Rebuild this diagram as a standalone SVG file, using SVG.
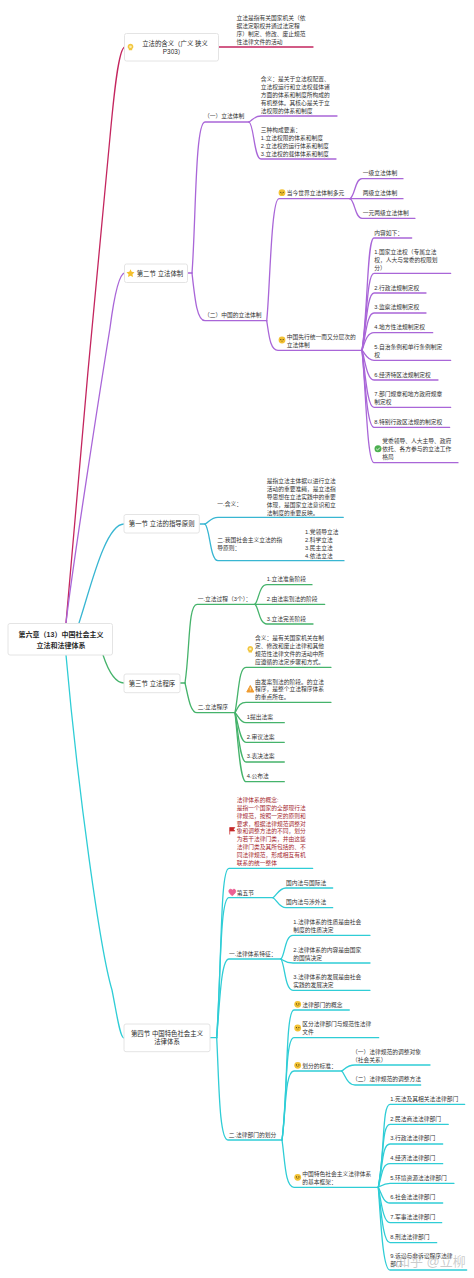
<svg xmlns="http://www.w3.org/2000/svg" width="474" height="1278" viewBox="0 0 474 1278">
<style>
text{font-family:"Liberation Sans","Noto Sans CJK SC",sans-serif;font-size:5.75px;fill:#333}
.n{font-size:6.4px;text-anchor:middle;fill:#2a2a2a}
.r{font-size:7px;font-weight:bold;text-anchor:middle;fill:#2a2a2a}
.red{fill:#a5282e}
.box{fill:#fff;stroke:#e4e4e4;stroke-width:1}
#connectors path{fill:none;stroke-linecap:round;stroke-width:1.3}
.c1 path{stroke:#c4265f}
.c2 path{stroke:#a966d8}
.c3 path{stroke:#38b6d2}
.c4 path{stroke:#45b36b}
.c5 path{stroke:#2fcdd6}
.wm{font-size:13px;fill:#aaa;fill-opacity:.6}
</style>
<defs>
<g id="face"><circle r="3.400" fill="#f3c233"/><circle cx="-1.200" cy="-.4" r=".6" fill="#4a3a10"/><circle cx="1.200" cy="-.4" r=".6" fill="#4a3a10"/><path d="M-1 1.200h2" stroke="#8a6a10" stroke-width=".5"/></g>
<g id="bulb"><path d="M0-3.300a3 3 0 0 1 1.700 5.400v1.200h-3.400v-1.200a3 3 0 0 1 1.700-5.400z" fill="#f2c63f"/><circle cy="-.3" r="1.300" fill="#fbeeb0"/></g>
</defs>
<g id="connectors">
<g class="c1"><path d="M66 623C72 540 100 240 110 137C113 105 118 47 125 47"/><path d="M219 47H313"/></g>
<g class="c2"><path d="M66 623C72 570 100 390 110 328C113 305 118 273 125 273"/><path d="M188 273H192"/>
<path d="M192 273C196 220 195 122 205 122H249"/><path d="M192 273C195 300 197 320.700 205 320.700H266.700"/>
<path d="M249 122C253 120 254 116 261 116H337"/><path d="M249 122C254 124 254 159 261 159H336"/>
<path d="M266.700 320.700C270 290 271 198.700 279 198.700H350"/><path d="M266.700 320.700C269 335 270 350.300 278 350.300H362"/>
<path d="M350 198.700C355 196 355 178.700 362 178.700H403"/><path d="M350 198.700H403"/><path d="M350 198.700C355 201 355 218.300 362 218.300H415"/>
<path d="M362 350.300C368 310 367 238 374 238H411.700"/><path d="M362 350.300C367 320 367 273.300 374 273.300H450.700"/><path d="M362 350.300C366 330 367 293 374 293H426"/><path d="M362 350.300C366 335 367 313 374 313H426"/><path d="M362 350.300C365 342 367 332.700 374 332.700H432.700"/><path d="M362 350.300C365 353 367 360.300 374 360.300H450.700"/><path d="M362 350.300C365 360 367 380 374 380H438"/><path d="M362 350.300C365 370 367 407.300 374 407.300H450.700"/><path d="M362 350.300C365 380 367 427.300 374 427.300H449.700"/><path d="M362 350.300C366 390 367 462.700 374 462.700H458"/></g>
<g class="c3"><path d="M79 623C90 590 105 524 124 524"/><path d="M199 524H205"/>
<path d="M205 524C209 522 211 517.300 218 517.300H343.300"/><path d="M205 524C210 528 210 560.700 218 560.700H344"/></g>
<g class="c4"><path d="M103 655C108 670 115 683 124 683"/><path d="M180 683H185"/>
<path d="M185 683C190 650 188 604.300 197 604.300H255"/><path d="M185 683C188 695 190 712.700 197 712.700H235"/>
<path d="M255 604.300C259 600 259 584.700 267 584.700H312"/><path d="M255 604.300H324.700"/><path d="M255 604.300C259 608 259 624 267 624H313"/>
<path d="M235 712.700C239 690 239 667.300 246 667.300H331"/><path d="M235 712.700C238 708 239 702.300 246 702.300H331"/><path d="M235 712.700C238 715 240 722.700 246 722.700H284.300"/><path d="M235 712.700C238 722 240 742.300 246 742.300H284.300"/><path d="M235 712.700C238 730 240 762 246 762H284.300"/><path d="M235 712.700C238 740 240 781.700 246 781.700H284.300"/></g>
<g class="c5"><path d="M66 655C78 790 100 950 112 990C117 1015 120 1038 124 1038"/><path d="M210 1037.700H216.700"/>
<path d="M216.700 1037.700C222 960 220 868.300 229 868.300H312.700"/><path d="M216.700 1037.700C221 970 220 897.700 229 897.700H273"/><path d="M216.700 1037.700C220 1000 221 959 229 959H281"/><path d="M216.700 1037.700C219 1080 219 1140 228 1140H282"/>
<path d="M273 897.700C277 895 279 888 286 888H332.700"/><path d="M273 897.700C277 900 279 907.700 286 907.700H332.700"/>
<path d="M281 959C285 955 285 935.300 293 935.300H370"/><path d="M281 959C285 961 285 963 293 963H370"/><path d="M281 959C285 965 285 990.300 293 990.300H370"/>
<path d="M282 1140C288 1100 285 1010 294 1010H349.300"/><path d="M282 1140C287 1100 285 1037.700 294 1037.700H378.700"/><path d="M282 1140C286 1110 285 1071 294 1071H341.700"/><path d="M282 1140C285 1160 285 1187.300 294 1187.300H378.300"/>
<path d="M341.700 1071C345 1069 347 1065 355 1065H430"/><path d="M341.700 1071C345 1074 347 1085 355 1085H420.700"/>
<path d="M378.300 1187.300C385 1150 382 1104.300 390 1104.300H464.700"/><path d="M378.300 1187.300C384 1155 382 1124.300 390 1124.300H448.300"/><path d="M378.300 1187.300C383 1165 382 1144 390 1144H442.700"/><path d="M378.300 1187.300C382 1175 382 1163.700 390 1163.700H442.700"/><path d="M378.300 1187.300C381 1186 384 1183.300 390 1183.300H454"/><path d="M378.300 1187.300C381 1192 383 1203 390 1203H442.700"/><path d="M378.300 1187.300C381 1200 383 1222.700 390 1222.700H441.700"/><path d="M378.300 1187.300C381 1210 383 1242.700 390 1242.700H436.700"/><path d="M378.300 1187.300C381 1225 383 1270 390 1270H466.700"/></g>
</g>
<g id="root"><rect class="box" x="8" y="623.500" width="104.500" height="31.500" rx="2"/><text class="r" x="61" y="637">第六章（13）中国社会主义</text><text class="r" x="61" y="647.500">立法和法律体系</text></g>
<g id="n-hanyi"><rect class="box" x="124.500" y="33.500" width="94" height="27.500" rx="2"/><use href="#bulb" x="130.500" y="47"/><text class="n" x="175" y="45.500">立法的含义（广义 狭义</text><text class="n" x="173.500" y="54">P303）</text>
<text x="236.500" y="19.500">立法是指有关国家机关（依</text><text x="236.500" y="27.500">据法定职权并通过法定程</text><text x="236.500" y="35.500">序）制定、修改、废止规范</text><text x="236.500" y="43.500">性法律文件的活动</text></g>
<g id="n-tizhi"><rect class="box" x="124.500" y="264" width="63" height="18.500" rx="2"/><path d="M130.500 269.300l1.200 2.500 2.800.4-2 2 .5 2.800-2.500-1.300-2.500 1.300.5-2.800-2-2 2.800-.4z" fill="#f5c02c"/><text class="n" x="160" y="275.500">第二节 立法体制</text></g>
<g id="n-tizhi-1"><text x="204" y="118.300">（一）立法体制</text>
<text x="260.700" y="81">含义：是关于立法权配置、</text><text x="260.700" y="89">立法权运行和立法权载体诸</text><text x="260.700" y="97">方面的体系和制度所构成的</text><text x="260.700" y="105">有机整体。其核心是关于立</text><text x="260.700" y="113">法权限的体系和制度</text>
<text x="260.700" y="132">三种构成要素：</text><text x="260.700" y="140">1.立法权限的体系和制度</text><text x="260.700" y="148">2.立法权的运行体系和制度</text><text x="260.700" y="156">3.立法权的载体体系和制度</text></g>
<g id="n-tizhi-2"><text x="204" y="317.200">（二）中国的立法体制</text></g>
<g id="n-world"><use href="#face" x="282" y="192.700"/><text x="286.700" y="195">当今世界立法体制多元</text><text x="362.700" y="175.200">一级立法体制</text><text x="362.700" y="195">两级立法体制</text><text x="362.700" y="214.500">一元两级立法体制</text></g>
<g id="n-china"><use href="#face" x="282" y="340"/><text x="286.700" y="339">中国先行统一而又分层次的</text><text x="286.700" y="347">立法体制</text>
<text x="374.300" y="234.500">内容如下：</text><text x="374.300" y="254">1.国家立法权（专属立法</text><text x="374.300" y="262">权，人大与常委的权限划</text><text x="374.300" y="270">分）</text><text x="374.300" y="289.500">2.行政法规制定权</text><text x="374.300" y="309.200">3.监察法规制定权</text><text x="374.300" y="328.900">4.地方性法规制定权</text><text x="374.300" y="348.900">5.自治条例和单行条例制定</text><text x="374.300" y="356.900">权</text><text x="374.300" y="376.500">6.经济特区法规制定权</text><text x="374.300" y="395.900">7.部门规章和地方政府规章</text><text x="374.300" y="403.900">制定权</text><text x="374.300" y="423.500">8.特别行政区法规的制定权</text>
<circle cx="378" cy="448.700" r="3.500" fill="#4caf50"/><path d="M376.200 448.800l1.300 1.300 2.400-2.500" fill="none" stroke="#fff" stroke-width=".8"/><text x="382.300" y="443.200">党委领导、人大主导、政府</text><text x="382.300" y="451.200">依托、各方参与的立法工作</text><text x="382.300" y="459.200">格局</text></g>
<g id="n-yuanze"><rect class="box" x="124" y="514.500" width="75.300" height="18.500" rx="2"/><text class="n" x="161.700" y="526">第一节 立法的指导原则</text>
<text x="217.300" y="506.200">一.含义：</text><text x="266.700" y="482.500">是指立法主体据以进行立法</text><text x="266.700" y="490.500">活动的重要准绳，是立法指</text><text x="266.700" y="498.500">导思想在立法实践中的重要</text><text x="266.700" y="506.500">体现，是国家立法意识和立</text><text x="266.700" y="514.500">法制度的重要反映。</text>
<text x="217.300" y="541.500">二.我国社会主义立法的指</text><text x="217.300" y="549.500">导原则：</text><text x="305" y="534">1.党领导立法</text><text x="305" y="542">2.科学立法</text><text x="305" y="550">3.民主立法</text><text x="305" y="558">4.依法立法</text></g>
<g id="n-chengxu"><rect class="box" x="124" y="674" width="56" height="18.700" rx="2"/><text class="n" x="152" y="685.500">第三节 立法程序</text>
<text x="197.700" y="600.500">一.立法过程（3个）：</text><text x="266.700" y="581.200">1.立法准备阶段</text><text x="266.700" y="600.500">2.由法案到法的阶段</text><text x="266.700" y="620.500">3.立法完善阶段</text>
<text x="197.700" y="709.200">二.立法程序</text>
<use href="#bulb" x="250.300" y="649.300"/><text x="255" y="640">含义：是有关国家机关在制</text><text x="255" y="648">定、修改和废止法律和其他</text><text x="255" y="656">规范性法律文件的活动中所</text><text x="255" y="664">应遵循的法定步骤和方式。</text>
<path d="M250.300 685.500l3.500 6.500h-7z" fill="#ef9a2e" stroke="#ef9a2e" stroke-linejoin="round"/><path d="M250.300 687.500v2.300M250.300 690.500v.6" stroke="#fff" stroke-width=".7"/><text x="255" y="683.500">由发案到法的阶段。的立法</text><text x="255" y="691.300">程序，是整个立法程序体系</text><text x="255" y="699.300">的重点所在。</text>
<text x="246.700" y="719">1提出法案</text><text x="246.700" y="738.900">2.审议法案</text><text x="246.700" y="758.200">3.表决法案</text><text x="246.700" y="778.200">4.公布法</text></g>
<g id="n-tixi"><rect class="box" x="124" y="1024" width="86" height="27.700" rx="2"/><text class="n" x="167" y="1035.500">第四节 中国特色社会主义</text><text class="n" x="167" y="1044">法律体系</text>
<path d="M229.700 834.500V827.500H234.700L233.500 829.300L234.700 831H229.700" fill="#c62828" stroke="#c62828" stroke-width=".7"/>
<text class="red" x="236.700" y="801.900">法律体系的概念:</text><text class="red" x="236.700" y="809.600">是指一个国家的全部现行法</text><text class="red" x="236.700" y="817.600">律规范，按照一定的原则和</text><text class="red" x="236.700" y="825.600">要求，根据法律规范调整对</text><text class="red" x="236.700" y="833.400">象和调整方法的不同，划分</text><text class="red" x="236.700" y="841.300">为若干法律门类，并由这些</text><text class="red" x="236.700" y="849.300">法律门类及其所包括的、不</text><text class="red" x="236.700" y="857.100">同法律规范，形成相互有机</text><text class="red" x="236.700" y="865">联系的统一整体</text>
<path d="M232.300 895.500c-4.500-2.800-3.800-6.200-1.800-6.200 1.100 0 1.800 .9 1.800 .9s.7-.9 1.800-.9c2 0 2.700 3.400-1.800 6.200z" fill="#ec5f93" stroke="#ec5f93"/><text x="236.700" y="894.500">第五节</text><text x="286" y="884.500">国内法与国际法</text><text x="286" y="904.200">国内法与涉外法</text>
<text x="229" y="955.500">一.法律体系特征：</text><text x="293.300" y="924">1.法律体系的性质是由社会</text><text x="293.300" y="932">制度的性质决定</text><text x="293.300" y="951.500">2.法律体系的内容是由国家</text><text x="293.300" y="959.500">的国情决定</text><text x="293.300" y="979.200">3.法律体系的发展是由社会</text><text x="293.300" y="987.200">实践的发展决定</text>
<text x="228.700" y="1136.500">二.法律部门的划分</text>
<use href="#face" x="297.700" y="1004.300"/><text x="302.300" y="1006.500">法律部门的概念</text>
<use href="#face" x="297.700" y="1028"/><text x="302.300" y="1026.200">区分法律部门与规范性法律</text><text x="302.300" y="1034.200">文件</text>
<use href="#face" x="297.700" y="1065.300"/><text x="302.300" y="1067.500">划分的标准：</text>
<text x="352" y="1053.900">（一）法律规范的调整对象</text><text x="352" y="1061.500">（社会关系）</text><text x="352" y="1081.200">（二）法律规范的调整方法</text>
<use href="#face" x="297.700" y="1177.300"/><text x="302.300" y="1175.900">中国特色社会主义法律体系</text><text x="302.300" y="1183.900">的基本框架：</text>
<text x="390.300" y="1100.900">1.宪法及其相关法法律部门</text><text x="390.300" y="1120.500">2.民法商法法律部门</text><text x="390.300" y="1140.200">3.行政法法律部门</text><text x="390.300" y="1159.900">4.经济法法律部门</text><text x="390.300" y="1179.500">5.环境资源法法律部门</text><text x="390.300" y="1199.200">6.社会法法律部门</text><text x="390.300" y="1218.900">7.军事法法律部门</text><text x="390.300" y="1238.900">8.刑法法律部门</text><text x="390.300" y="1258.200">9.诉讼与非诉讼程序法律</text><text x="390.300" y="1266.200">部门</text></g>
<text id="watermark" class="wm" x="397" y="1266">知乎 @立柳</text>
</svg>
